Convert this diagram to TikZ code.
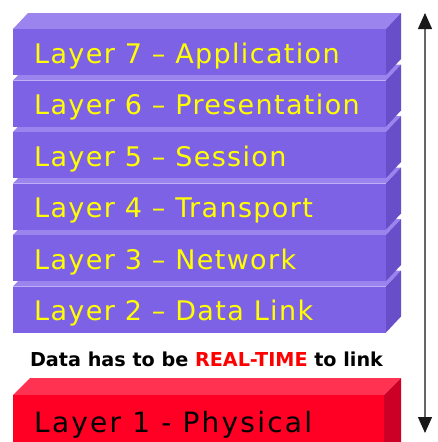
\documentclass[tikz,border=0pt]{standalone}
\usepackage{fontspec}
\setmainfont{DejaVu Sans}
\newfontfamily\layfont[LetterSpace=5]{DejaVu Sans}
\newfontfamily\physfont[LetterSpace=8]{DejaVu Sans}
\usetikzlibrary{arrows.meta}
\definecolor{pfront}{HTML}{7E62E6}
\definecolor{ptop}{HTML}{9C84EE}
\definecolor{pside}{HTML}{694EC9}
\definecolor{rfront}{HTML}{FF0024}
\definecolor{rtop}{HTML}{FF3252}
\definecolor{rside}{HTML}{CC0026}
\definecolor{ltext}{HTML}{FFFF00}
\definecolor{rtext}{HTML}{FF0000}
\begin{document}
\begin{tikzpicture}[x=1pt,y=-1pt,
  frontbox/.style={draw=none,inner sep=0pt,anchor=north west,minimum width=#1},
  laytext/.style={anchor=base west,inner sep=0pt,font=\layfont\fontsize{27}{29}\selectfont},
  midtext/.style={anchor=base,inner sep=0pt,font=\bfseries\fontsize{19.2}{21}\selectfont}]
\useasboundingbox (0,0) rectangle (438,442);
\newcommand\drawlayer[8]{%
  \fill[#5] (13,#2) -- (28,{#2-16}) -- (401,{#2-16}) -- (386,#2) -- cycle;
  \fill[#6] (386,#2) -- (401,{#2-16}) -- (401,{#2+#3-16}) -- (386,{#2+#3}) -- cycle;
  \node[frontbox=373pt,fill=#4,minimum height=#3pt] (#1) at (13,#2) {};
  \node[laytext,text=#8] (#1t) at (34,{#2+34}) {#7};
}
% Layer 1 (red)
\fill[rtop] (13,395) -- (30,378) -- (401,378) -- (384,395) -- cycle;
\fill[rside] (384,395) -- (401,378) -- (401,442) -- (384,442) -- cycle;
\node[frontbox=371pt,fill=rfront,minimum height=47pt] (l1) at (13,395) {};
\node[laytext,text=black,font=\physfont\fontsize{28}{30}\selectfont] (l1t) at (34,432) {Layer 1 - Physical};
% Purple layers, bottom to top
\drawlayer{l2}{286.5}{46}{pfront}{ptop}{pside}{Layer 2 – Data Link}{ltext}
\drawlayer{l3}{235}{46}{pfront}{ptop}{pside}{Layer 3 – Network}{ltext}
\drawlayer{l4}{183.5}{46}{pfront}{ptop}{pside}{Layer 4 – Transport}{ltext}
\drawlayer{l5}{132}{46}{pfront}{ptop}{pside}{Layer 5 – Session}{ltext}
\drawlayer{l6}{80.5}{46}{pfront}{ptop}{pside}{Layer 6 – Presentation}{ltext}
\drawlayer{l7}{29}{46}{pfront}{ptop}{pside}{Layer 7 – Application}{ltext}
% middle statement
\node[midtext] (mid) at (206.5,366) {Data has to be \textcolor{rtext}{REAL-TIME} to link};
% double arrow
\coordinate (atop) at (425,13);
\coordinate (abot) at (425,433);
\draw[draw=black!60,line width=1.3pt,
  {Triangle[width=14pt,length=16pt,color=black!90]}-{Triangle[width=14pt,length=16pt,color=black!90]}]
  (atop) -- (abot);
\end{tikzpicture}
\end{document}
